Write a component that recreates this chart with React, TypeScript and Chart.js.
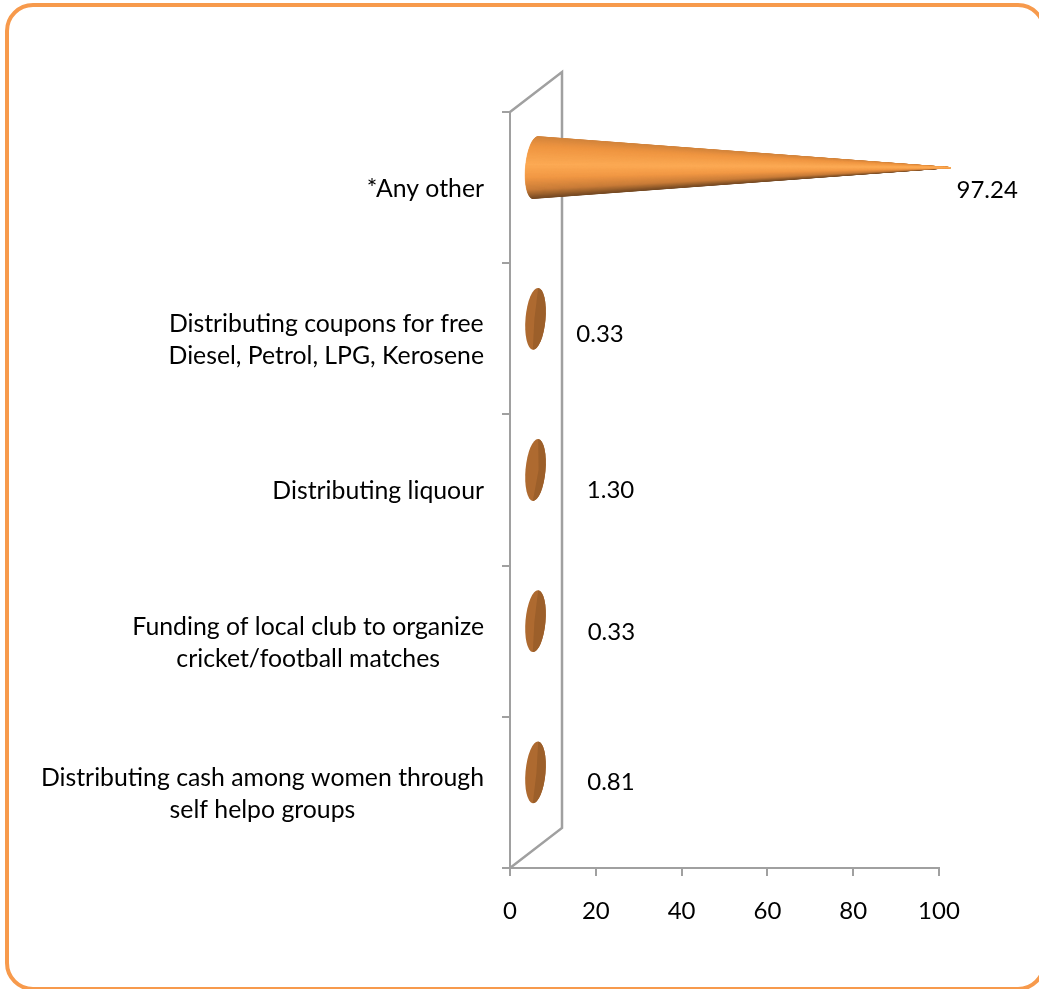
import React, { useEffect, useRef } from "react";
import { Chart, registerables } from "chart.js";

Chart.register(...registerables);

const categories: string[][] = [
  ["*Any other"],
  ["Distributing coupons for free", "Diesel, Petrol, LPG, Kerosene"],
  ["Distributing liquour"],
  ["Funding of local club to organize", "cricket/football matches"],
  ["Distributing cash among women through", "self helpo groups"],
];
const values: number[] = [97.24, 0.33, 1.3, 0.33, 0.81];
const xTicks: number[] = [0, 20, 40, 60, 80, 100];

const FONT = "Lato";
const FONT_SIZE = 24.8;
const NUM_SIZE = 24;
const GRAY = "#A0A0A0";
const DEPTH_X = 52;
const DEPTH_Y = 40;
const RX = 10;
const RY = 31;
const TILT = (5 * Math.PI) / 180;
const LABEL_SHIFT = [
  { dx: 60, dy: 3 },
  { dx: 88.6, dy: -5 },
  { dx: 95, dy: 0 },
  { dx: 100, dy: -9 },
  { dx: 97.5, dy: -10 },
];

const SHADE: [number, number[]][] = [
  [0, [210, 132, 60]],
  [0.15, [238, 148, 64]],
  [0.45, [252, 170, 84]],
  [0.65, [242, 152, 68]],
  [0.85, [200, 124, 56]],
  [1, [112, 70, 34]],
];

function shade(t: number): string {
  for (let i = 1; i < SHADE.length; i++) {
    if (t <= SHADE[i][0]) {
      const [t0, a] = SHADE[i - 1];
      const [t1, b] = SHADE[i];
      const k = (t - t0) / (t1 - t0);
      const c = a.map((v, j) => Math.round(v + (b[j] - v) * k));
      return `rgb(${c[0]},${c[1]},${c[2]})`;
    }
  }
  return "rgb(112,70,34)";
}

function ellipsePoint(cx: number, cy: number, a: number): [number, number] {
  const ex = RX * Math.cos(a);
  const ey = RY * Math.sin(a);
  return [cx + ex * Math.cos(TILT) - ey * Math.sin(TILT), cy + ex * Math.sin(TILT) + ey * Math.cos(TILT)];
}

function drawCone(ctx: CanvasRenderingContext2D, cx: number, cy: number, tipX: number) {
  const length = tipX - cx;
  if (length > RX * 2) {
    // Solid silhouette first, so nothing behind shows through the seams of the fan.
    const top = ellipsePoint(cx, cy, -Math.PI / 2);
    ctx.beginPath();
    ctx.moveTo(top[0], top[1]);
    ctx.ellipse(cx, cy, RX, RY, TILT, -Math.PI / 2, Math.PI / 2, true);
    ctx.lineTo(tipX, cy);
    ctx.closePath();
    ctx.fillStyle = "rgb(240,150,66)";
    ctx.fill();
    const n = 60;
    const slices = [];
    for (let i = 0; i < n; i++) {
      const a0 = -Math.PI / 2 - (i / n) * Math.PI;
      const a1 = -Math.PI / 2 - ((i + 1) / n) * Math.PI;
      const p0 = ellipsePoint(cx, cy, a0);
      const p1 = ellipsePoint(cx, cy, a1);
      const t = ((p0[1] + p1[1]) / 2 - (cy - RY)) / (2 * RY);
      slices.push({ p0, p1, t });
    }
    // Darker slices first, so the highlight is what reaches the tip.
    slices.sort((a, b) => Math.abs(b.t - 0.45) - Math.abs(a.t - 0.45));
    for (const { p0, p1, t } of slices) {
      const col = shade(Math.max(0, Math.min(1, t)));
      ctx.beginPath();
      ctx.moveTo(tipX, cy);
      ctx.lineTo(p0[0], p0[1]);
      ctx.lineTo(p1[0], p1[1]);
      ctx.closePath();
      ctx.fillStyle = col;
      ctx.strokeStyle = col;
      ctx.lineWidth = 0.6;
      ctx.fill();
      ctx.stroke();
    }
    return;
  }
  ctx.save();
  ctx.beginPath();
  ctx.ellipse(cx, cy, RX, RY, TILT, 0, Math.PI * 2);
  ctx.fillStyle = "#AE6A30";
  ctx.fill();
  ctx.clip();
  const top = ellipsePoint(cx, cy, -Math.PI / 2);
  const bottom = ellipsePoint(cx, cy, Math.PI / 2);
  ctx.beginPath();
  ctx.moveTo(top[0], top[1]);
  ctx.lineTo(tipX, cy);
  ctx.lineTo(bottom[0], bottom[1]);
  ctx.lineTo(cx + RX * 3, bottom[1]);
  ctx.lineTo(cx + RX * 3, top[1]);
  ctx.closePath();
  ctx.fillStyle = "#9C5F2A";
  ctx.fill();
  ctx.restore();
}

const conePlugin = {
  id: "cone3d",
  beforeDatasetsDraw(chart: any) {
    const { ctx, chartArea: a } = chart;
    ctx.save();
    ctx.strokeStyle = GRAY;
    ctx.lineWidth = 2.5;
    ctx.beginPath();
    ctx.moveTo(a.left, a.top);
    ctx.lineTo(a.left + DEPTH_X, a.top - DEPTH_Y);
    ctx.lineTo(a.left + DEPTH_X, a.bottom - DEPTH_Y);
    ctx.lineTo(a.left, a.bottom);
    ctx.stroke();
    ctx.restore();
  },
  afterDatasetsDraw(chart: any) {
    const { ctx } = chart;
    const xScale = chart.scales.x;
    const yScale = chart.scales.y;
    const meta = chart.getDatasetMeta(0);
    const zero = xScale.getPixelForValue(0);
    ctx.save();
    meta.data.forEach((bar: any, i: number) => {
      const cx = zero + DEPTH_X / 2 - 0.5;
      const cy = bar.y - DEPTH_Y / 2;
      drawCone(ctx, cx, cy, bar.x + DEPTH_X / 2 - 3);
      ctx.font = `${NUM_SIZE}px ${FONT}`;
      ctx.fillStyle = "#000";
      ctx.textAlign = "center";
      ctx.textBaseline = "middle";
      ctx.fillText(values[i].toFixed(2), bar.x + LABEL_SHIFT[i].dx, bar.y + LABEL_SHIFT[i].dy);
    });
    categories.forEach((lines, i) => {
      ctx.font = `${FONT_SIZE}px ${FONT}`;
      ctx.fillStyle = "#000";
      ctx.textAlign = "center";
      ctx.textBaseline = "middle";
      const right = yScale.right - 26;
      const widest = Math.max(...lines.map((l) => ctx.measureText(l).width));
      const mid = yScale.getPixelForValue(i) + 1.5;
      lines.forEach((l, j) => {
        ctx.fillText(l, right - widest / 2, mid + (j - (lines.length - 1) / 2) * 32);
      });
    });
    ctx.restore();
  },
};

export default function App() {
  const ref = useRef<HTMLCanvasElement>(null);
  useEffect(() => {
    const chart = new Chart(ref.current!, {
      type: "bar",
      data: {
        labels: categories as any,
        datasets: [
          {
            data: values,
            backgroundColor: "rgba(0,0,0,0)",
            borderWidth: 0,
          },
        ],
      },
      plugins: [conePlugin],
      options: {
        indexAxis: "y",
        responsive: false,
        animation: false,
        layout: { padding: { top: 112, right: 100, left: 0, bottom: 0 } },
        plugins: { legend: { display: false }, tooltip: { enabled: false }, title: { display: false } },
        scales: {
          x: {
            min: 0,
            max: 100,
            afterFit: (s: any) => {
              s.height = 121;
            },
            afterBuildTicks: (s: any) => {
              s.ticks = xTicks.map((value) => ({ value }));
            },
            grid: { drawOnChartArea: false, drawTicks: true, tickLength: 8, color: GRAY, lineWidth: 2 },
            border: { display: true, color: GRAY, width: 2 },
            ticks: { color: "#000", font: { family: FONT, size: NUM_SIZE }, padding: 21, maxRotation: 0 },
          },
          y: {
            afterFit: (s: any) => {
              s.width = 510;
            },
            grid: { drawOnChartArea: false, drawTicks: true, tickLength: 8, color: GRAY, lineWidth: 2 },
            border: { display: true, color: GRAY, width: 2 },
            ticks: { display: false },
          },
        },
      } as any,
    });
    return () => chart.destroy();
  }, []);
  return (
    <div style={{ position: "fixed", left: 0, top: 0, width: 1039, height: 989, overflow: "hidden", background: "#fff" }}>
      <div
        style={{
          position: "absolute",
          left: 5,
          top: 3,
          width: 1041,
          height: 988,
          boxSizing: "border-box",
          border: "4px solid #F79A4C",
          borderRadius: 28,
        }}
      />
      <canvas ref={ref} width={1039} height={989} style={{ position: "absolute", left: 0, top: 0, display: "block" }} />
    </div>
  );
}
